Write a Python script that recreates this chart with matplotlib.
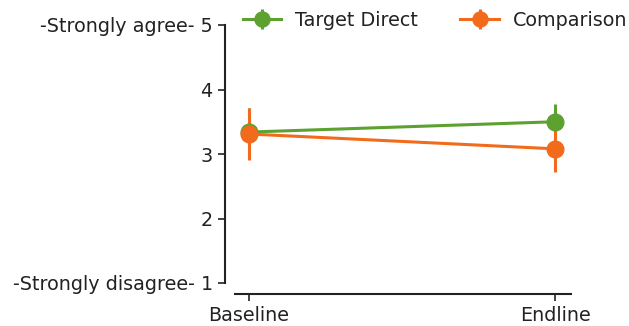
import matplotlib.pyplot as plt
import numpy as np

# survey round and mean agreement (1-5 scale) per group
rounds = ['Baseline', 'Endline']
target_mean = [3.34, 3.50]
target_err = [0.38, 0.27]
comparison_mean = [3.31, 3.08]
comparison_err = [0.40, 0.36]

green = '#5da130'
orange = '#f26b1d'

fig = plt.figure(figsize=(6.29, 3.26), dpi=100)
ax = fig.add_axes([235 / 629, 1 - 283 / 326, 336 / 629, 258 / 326])

x = np.arange(len(rounds))
ax.errorbar(x, target_mean, yerr=target_err, color=green, marker='o',
            markersize=12, linewidth=2.2, elinewidth=2.2, label='Target Direct')
ax.errorbar(x, comparison_mean, yerr=comparison_err, color=orange, marker='o',
            markersize=12, linewidth=2.2, elinewidth=2.2, label='Comparison')

ax.set_xlim(-0.046, 1.052)
ax.set_ylim(1, 5)
ax.set_xticks(x)
ax.set_xticklabels(rounds)
ax.set_yticks([1, 2, 3, 4, 5])
ax.set_yticklabels(['-Strongly disagree- 1', '2', '3', '4', '-Strongly agree- 5'])

# despined look with offset axes
for side in ['top', 'right']:
    ax.spines[side].set_visible(False)
ax.spines['left'].set_position(('outward', 7.5))
ax.spines['bottom'].set_position(('outward', 8))
for side in ['left', 'bottom']:
    ax.spines[side].set_linewidth(1.5)
    ax.spines[side].set_color('#222222')
ax.tick_params(length=5, width=1.2, color='#222222', labelcolor='#222222',
               labelsize=13.8)

leg = ax.legend(loc='upper left', bbox_to_anchor=(0.0, 1.085), ncol=2, frameon=False,
                fontsize=13.8, handlelength=2.0, handletextpad=0.75,
                columnspacing=2.2, borderaxespad=0, markerscale=0.9)
for t in leg.get_texts():
    t.set_color('#222222')

fig.savefig('out.png', dpi=100)
